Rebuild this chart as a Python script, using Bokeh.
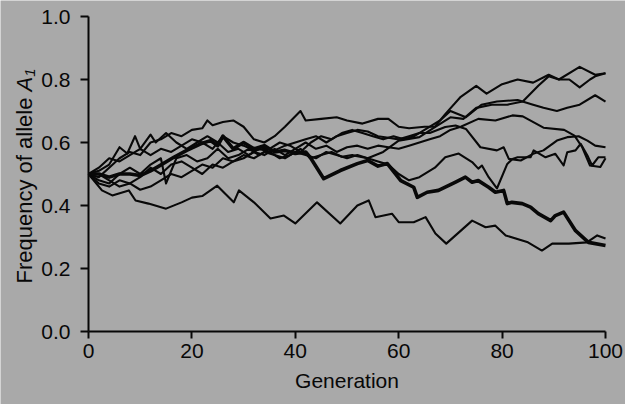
import math
from bokeh.plotting import figure
from bokeh.models import Range1d, FixedTicker, PrintfTickFormatter
from bokeh.core.properties import value
from bokeh.embed import file_html
from bokeh.resources import INLINE

# ---- data ----
gen_a = [0, 2, 4, 6, 8, 10, 12, 14, 16, 18, 20, 22, 23, 24, 26, 28, 30, 32, 34, 36, 38, 41, 42, 45, 48, 50, 53, 56, 58, 60, 62, 65, 67, 69, 72, 75, 77, 80, 83, 86, 89, 91, 95, 98, 100]
freq_a = [.50, .49, .52, .55, .57, .56, .60, .61, .63, .62, .64, .645, .67, .655, .665, .67, .65, .61, .60, .62, .65, .70, .67, .675, .68, .67, .66, .675, .675, .65, .645, .65, .65, .69, .745, .78, .755, .785, .80, .79, .815, .80, .84, .815, .82]

gen_b = [0, 2, 4, 6, 7.5, 9, 10, 12, 13, 15, 17, 19, 21, 23, 25, 27, 29, 31, 33, 35, 37, 39, 41, 43, 45, 47, 49, 51, 54, 57, 60, 64, 67, 70, 72.5, 75, 78, 81, 84, 87, 89, 91, 93, 95, 97, 98, 100]
freq_b = [.50, .51, .53, .585, .565, .62, .58, .625, .60, .63, .60, .58, .60, .62, .60, .57, .58, .56, .58, .57, .55, .56, .58, .55, .56, .57, .555, .56, .55, .57, .606, .617, .649, .68, .675, .71, .72, .72, .73, .78, .81, .80, .80, .775, .80, .81, .82]

gen_c = [0, 2, 4, 6, 8, 10, 12, 14, 15, 17, 19, 21, 23, 25, 27, 29, 31, 33, 35, 37, 39, 41, 43, 45, 47, 49, 51, 53, 55, 57, 59, 61, 63, 65, 68, 70, 73, 76, 79, 83, 86, 88, 90.6, 92.6, 95, 98, 100]
freq_c = [.50, .48, .47, .50, .52, .50, .53, .55, .47, .55, .56, .54, .55, .58, .55, .56, .58, .56, .58, .60, .59, .57, .60, .62, .61, .63, .64, .63, .62, .61, .62, .61, .62, .64, .67, .70, .68, .72, .73, .735, .72, .71, .70, .71, .72, .75, .73]

gen_p = [0, 2, 4, 6, 8, 10, 12, 14, 16, 18, 20, 22, 24, 26, 28, 30, 32, 34, 36, 38, 40, 42, 44, 46, 48, 50, 52, 54, 56, 58, 60, 62, 64, 66, 68, 70, 72, 75.4, 78.7, 82, 84, 88, 92, 94, 95.5, 97, 99, 100]
freq_p = [.50, .47, .46, .48, .47, .49, .52, .50, .53, .54, .52, .50, .53, .52, .54, .55, .57, .56, .58, .56, .58, .60, .58, .59, .57, .585, .59, .58, .59, .585, .58, .59, .60, .61, .62, .64, .65, .675, .67, .686, .683, .647, .64, .622, .585, .527, .522, .55]

gen_q = [0, 2, 4, 6, 8, 10, 12, 14, 16, 18, 20, 22, 24, 26, 28, 30, 32, 34, 36, 38, 40, 42, 44, 46, 48, 50, 52, 54, 56, 58, 60, 62, 64, 66, 69, 71, 73, 75.8, 79, 80.3, 81.3, 83.6, 86, 88, 90.6, 92.6, 94.8, 96.5, 98, 100]
freq_q = [.50, .52, .55, .54, .56, .58, .56, .58, .57, .59, .61, .60, .58, .62, .60, .59, .575, .58, .575, .59, .60, .61, .62, .60, .62, .63, .64, .635, .62, .615, .61, .62, .63, .63, .649, .654, .643, .585, .575, .585, .548, .543, .564, .575, .606, .617, .62, .606, .59, .585]

gen_d = [0, 2, 4, 6, 8, 10, 12, 14, 16, 18, 20, 22, 24, 26, 28, 30, 32, 34, 36, 38, 40, 42, 44, 46, 48, 50, 52, 54, 56, 58, 60, 62, 64, 67, 69, 71.6, 74.2, 75.4, 76.1, 77.4, 79, 81, 82, 83, 85.5, 86.1, 88.4, 90.3, 91.9, 92.6, 94.2, 95.2, 96.5, 97.4, 98.6, 100]
freq_d = [.50, .50, .48, .46, .47, .45, .46, .48, .50, .49, .51, .53, .52, .55, .54, .56, .55, .57, .56, .55, .57, .56, .55, .57, .56, .55, .56, .55, .54, .53, .50, .48, .49, .52, .553, .565, .538, .517, .527, .49, .454, .532, .548, .553, .553, .575, .553, .564, .527, .569, .575, .596, .559, .527, .553, .553]

gen_low = [0, 2.6, 4.6, 7.8, 9.1, 11.6, 15, 18, 20, 22, 24.9, 28.1, 29.1, 32, 35.2, 37.8, 40, 44.2, 48.7, 52, 54.2, 55.5, 58.7, 60, 62.9, 65.2, 67.1, 69.2, 74.2, 76.8, 78.7, 80.7, 85, 87.7, 89.7, 92.9, 96.4, 98.4, 100]
freq_low = [.50, .448, .432, .448, .416, .406, .39, .41, .425, .43, .463, .41, .448, .41, .359, .368, .343, .41, .343, .40, .416, .363, .374, .347, .347, .363, .311, .279, .352, .331, .336, .305, .283, .257, .279, .279, .283, .305, .295]

gen_thick = [0, 2, 4, 6, 8, 10, 12, 13.3, 16.5, 19, 21.7, 23.6, 25, 26, 28, 30, 32, 34, 36, 38, 40, 42, 43, 45.5, 48.7, 52, 54, 56, 57.8, 60.4, 62.9, 63.6, 65.5, 67.7, 69, 71, 72.9, 74.2, 75.4, 77.4, 78.7, 80.3, 81, 81.9, 83.9, 85.5, 87, 89.4, 90.3, 91.9, 94.2, 96.7, 100]
freq_thick = [.50, .50, .49, .50, .50, .495, .51, .522, .553, .575, .596, .606, .59, .62, .58, .60, .58, .59, .57, .575, .565, .57, .55, .485, .511, .533, .543, .525, .533, .479, .458, .426, .442, .448, .458, .474, .49, .474, .479, .458, .442, .448, .406, .41, .406, .395, .374, .352, .368, .379, .32, .283, .273]

x_ticks = [0, 20, 40, 60, 80, 100]
y_ticks = [0.0, 0.2, 0.4, 0.6, 0.8, 1.0]
x_label = "Generation"
y_label_parts = ["Frequency of allele ", "A", "1"]

BG = "#a9a9a9"
INK = "#080808"
FONT = "Liberation Sans"
FS = 21
TFS = 22

# ---- layout (pixels) ----
W, H = 625, 404
AX_LEFT, AX_RIGHT = 88, 605      # x = 0 and x = 100
AX_BOTTOM, AX_TOP = 331, 16      # y = 0 and y = 1
sx = (AX_RIGHT - AX_LEFT) / 100.0
sy = (AX_BOTTOM - AX_TOP) / 1.0
x_lo = -AX_LEFT / sx
x_hi = x_lo + W / sx
y_lo = -(H - AX_BOTTOM) / sy
y_hi = y_lo + H / sy


def px_to_x(px):
    return x_lo + px / sx


def px_to_y(py):
    return y_lo + (H - py) / sy


p = figure(width=W, height=H, output_backend="svg", toolbar_location=None,
           x_range=Range1d(x_lo, x_hi), y_range=Range1d(y_lo, y_hi), min_border=0)
p.background_fill_color = BG
p.border_fill_color = BG
p.outline_line_color = None
p.grid.visible = False

thin = [(gen_a, freq_a), (gen_b, freq_b), (gen_c, freq_c), (gen_p, freq_p),
        (gen_q, freq_q), (gen_d, freq_d), (gen_low, freq_low)]
for g, f in thin:
    p.line(g, f, line_color=INK, line_width=2.1, line_join="round")
p.line(gen_thick, freq_thick, line_color=INK, line_width=3.6, line_join="round")

for ax in (p.xaxis[0], p.yaxis[0]):
    ax.fixed_location = 0
    ax.axis_line_color = INK
    ax.axis_line_width = 2
    ax.major_tick_line_color = INK
    ax.major_tick_line_width = 2
    ax.major_tick_in = 0
    ax.minor_tick_line_color = None
    ax.major_label_text_font = FONT
    ax.major_label_text_font_size = f"{FS}px"
    ax.major_label_text_color = INK

p.xaxis.bounds = (0, 100)
p.xaxis.ticker = FixedTicker(ticks=x_ticks)
p.xaxis.major_tick_out = 7
p.xaxis.major_label_standoff = 5
p.xaxis.axis_label = x_label
p.xaxis.axis_label_text_font = FONT
p.xaxis.axis_label_text_font_size = f"{FS}px"
p.xaxis.axis_label_text_font_style = "normal"
p.xaxis.axis_label_text_color = INK
p.xaxis.axis_label_standoff = 8

p.yaxis.bounds = (0, 1)
p.yaxis.ticker = FixedTicker(ticks=y_ticks)
p.yaxis.formatter = PrintfTickFormatter(format="%.1f")
p.yaxis.major_tick_out = 8
p.yaxis.major_label_standoff = 10

# rotated y-axis title: plain part, italic A, small subscript 1
mid_x = 24
start_py = 283
main_w = 8.726 * TFS
a_w = 0.667 * TFS
rot = math.pi / 2
p.text(x=[px_to_x(mid_x)], y=[px_to_y(start_py)], text=[y_label_parts[0]], angle=rot,
       text_font=value(FONT), text_font_size=f"{TFS}px", text_color=INK,
       text_align="left", text_baseline="middle")
p.text(x=[px_to_x(mid_x)], y=[px_to_y(start_py - main_w)], text=[y_label_parts[1]], angle=rot,
       text_font=value(FONT), text_font_size=f"{TFS}px", text_font_style="italic",
       text_color=INK, text_align="left", text_baseline="middle")
p.text(x=[px_to_x(mid_x + 5)], y=[px_to_y(start_py - main_w - a_w)], text=[y_label_parts[2]],
       angle=rot, text_font=value(FONT), text_font_size="15px", text_font_style="italic",
       text_color=INK, text_align="left", text_baseline="middle")

open("out.html", "w").write(file_html(p, INLINE))
